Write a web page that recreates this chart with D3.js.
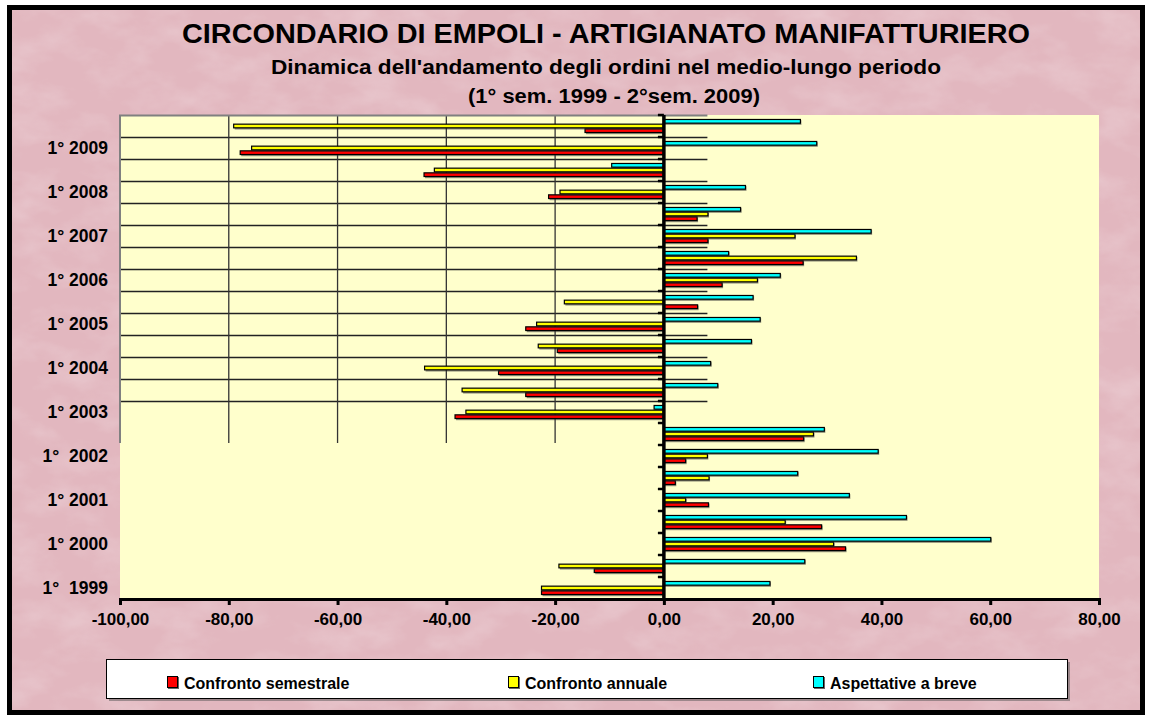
<!DOCTYPE html>
<html lang="it">
	<head>
		<meta charset="utf-8">
		<title>Circondario di Empoli - Artigianato manifatturiero</title>
		<script type="text/javascript" src="https://cdn.jsdelivr.net/npm/d3@7"></script>
		<style>
			body { margin: 0; background: #ffffff; }
			svg text { font-family: "Liberation Sans", Arial, sans-serif; font-weight: bold; fill: #000; }
		</style>
	</head>
	<body>
		<script type="text/javascript">
			//Semesters, bottom to top
			var categories = ["1° 1999", "2° 1999", "1° 2000", "2° 2000", "1° 2001", "2° 2001",
							  "1° 2002", "2° 2002", "1° 2003", "2° 2003", "1° 2004", "2° 2004",
							  "1° 2005", "2° 2005", "1° 2006", "2° 2006", "1° 2007", "2° 2007",
							  "1° 2008", "2° 2008", "1° 2009", "2° 2009"];

			//Only the first semesters get a label
			var tickLabels = ["1°  1999", "", "1° 2000", "", "1° 2001", "",
							  "1°  2002", "", "1° 2003", "", "1° 2004", "",
							  "1° 2005", "", "1° 2006", "", "1° 2007", "",
							  "1° 2008", "", "1° 2009", ""];

			var semestrale = [-22.5, -12.8, 33.4, 29.0, 8.2, 2.1, 4.0, 25.7, -38.4, -25.4, -30.4,
							  -19.6, -25.4, 6.2, 10.7, 25.6, 8.1, 6.1, -21.2, -44.1, -77.9, -14.5];
			var annuale = [-22.5, -19.3, 31.2, 22.3, 4.0, 8.3, 8.0, 27.5, -36.4, -37.1, -44.0,
						   -23.1, -23.4, -18.3, 17.2, 35.4, 24.1, 8.1, -19.1, -42.2, -75.8, -79.1];
			var aspettative = [19.5, 25.9, 60.1, 44.6, 34.1, 24.6, 39.4, 29.5, -1.8, 9.9, 8.6,
							   16.1, 17.7, 16.4, 21.4, 11.9, 38.1, 14.1, 15.0, -9.6, 28.1, 25.1];

			var seriesNames = ["Confronto semestrale", "Confronto annuale", "Aspettative a breve"];
			var seriesColors = ["#ff0000", "#ffff00", "#00ffff"];
			var xTicks = [-100, -80, -60, -40, -20, 0, 20, 40, 60, 80];

			var series = [
				{ name: seriesNames[0], color: seriesColors[0], key: "sem", values: semestrale },
				{ name: seriesNames[1], color: seriesColors[1], key: "ann", values: annuale },
				{ name: seriesNames[2], color: seriesColors[2], key: "asp", values: aspettative }
			];

			//Width and height
			var w = 1152;
			var h = 720;
			var plot = { left: 120, right: 1099, top: 115, bottom: 599 };

			var svg = d3.select("body")
						.append("svg")
						.attr("width", w)
						.attr("height", h);

			//Pink marble background
			var defs = svg.append("defs");
			var marble = defs.append("filter")
				.attr("id", "marble")
				.attr("x", 0).attr("y", 0).attr("width", 1).attr("height", 1);
			marble.append("feTurbulence")
				.attr("type", "fractalNoise")
				.attr("baseFrequency", "0.02 0.035")
				.attr("numOctaves", 4)
				.attr("seed", 7);
			marble.append("feColorMatrix")
				.attr("type", "matrix")
				.attr("values", "0 0 0 0 1  0 0 0 0 1  0 0 0 0 1  1.2 0 0 0 -0.5");

			svg.append("rect")
				.attr("x", 9.5).attr("y", 7.5)
				.attr("width", 1133).attr("height", 705)
				.attr("fill", "#e2b7bf");
			svg.append("rect")
				.attr("x", 12).attr("y", 10)
				.attr("width", 1128).attr("height", 700)
				.attr("filter", "url(#marble)")
				.attr("opacity", 0.35);
			svg.append("rect")
				.attr("x", 9.5).attr("y", 7.5)
				.attr("width", 1133).attr("height", 705)
				.attr("fill", "none")
				.attr("stroke", "#000")
				.attr("stroke-width", 5);

			//Titles
			var cx = 606;
			svg.append("text")
				.attr("x", cx).attr("y", 43)
				.attr("text-anchor", "middle")
				.attr("font-size", "27px")
				.attr("textLength", 848)
				.attr("lengthAdjust", "spacingAndGlyphs")
				.text("CIRCONDARIO DI EMPOLI - ARTIGIANATO MANIFATTURIERO");
			svg.append("text")
				.attr("x", cx).attr("y", 74)
				.attr("text-anchor", "middle")
				.attr("font-size", "20px")
				.attr("textLength", 670)
				.attr("lengthAdjust", "spacingAndGlyphs")
				.text("Dinamica dell'andamento degli ordini nel medio-lungo periodo");
			svg.append("text")
				.attr("x", cx + 8).attr("y", 103)
				.attr("text-anchor", "middle")
				.attr("font-size", "20px")
				.attr("textLength", 292)
				.attr("lengthAdjust", "spacingAndGlyphs")
				.text("(1° sem. 1999 - 2°sem. 2009)");

			//Scales
			var x = d3.scaleLinear()
				.domain([-100, 80])
				.range([plot.left, plot.right]);

			var y = d3.scaleBand()
				.domain(categories.slice().reverse())
				.range([plot.top, plot.bottom])
				.padding(0);

			var ySub = d3.scaleBand()
				.domain(["asp", "ann", "sem"])
				.range([0, y.bandwidth()])
				.paddingInner(0)
				.paddingOuter(0.85);

			//Plot area
			svg.append("rect")
				.attr("x", plot.left).attr("y", plot.top)
				.attr("width", plot.right - plot.left)
				.attr("height", plot.bottom - plot.top)
				.attr("fill", "#ffffcc");

			//Grid (only drawn over the upper left block, as in the original)
			var gridRight = x(8);
			var gridBottom = y(categories[7]) + y.bandwidth() - 2;
			var gridCats = categories.slice(8, 21);

			svg.append("g")
				.selectAll("line")
				.data(gridCats)
				.enter()
				.append("line")
				.attr("x1", plot.left)
				.attr("x2", gridRight)
				.attr("y1", function(d) { return y(d) + 0.5; })
				.attr("y2", function(d) { return y(d) + 0.5; })
				.attr("stroke", "#222")
				.attr("stroke-width", 1.5);

			svg.append("g")
				.selectAll("line")
				.data([-80, -60, -40, -20])
				.enter()
				.append("line")
				.attr("x1", function(d) { return x(d); })
				.attr("x2", function(d) { return x(d); })
				.attr("y1", plot.top)
				.attr("y2", gridBottom)
				.attr("stroke", "#333")
				.attr("stroke-width", 1.3);

			//Grey border of the grid block
			svg.append("path")
				.attr("d", "M" + plot.left + "," + gridBottom + "V" + (plot.top + 0.5) + "H" + gridRight)
				.attr("fill", "none")
				.attr("stroke", "#808080")
				.attr("stroke-width", 2);

			//Bars
			series.forEach(function(s) {
				var g = svg.append("g");
				var rows = s.values.map(function(v, i) { return { cat: categories[i], v: v }; });

				g.selectAll("rect.shadow")
					.data(rows)
					.enter()
					.append("rect")
					.attr("class", "shadow")
					.attr("x", function(d) { return Math.min(x(0), x(d.v)) + 1; })
					.attr("y", function(d) { return y(d.cat) + ySub(s.key) + 1.2; })
					.attr("width", function(d) { return Math.abs(x(d.v) - x(0)); })
					.attr("height", ySub.bandwidth())
					.attr("fill", "#333")
					.attr("opacity", 0.55);

				g.selectAll("rect.bar")
					.data(rows)
					.enter()
					.append("rect")
					.attr("class", "bar")
					.attr("x", function(d) { return Math.min(x(0), x(d.v)); })
					.attr("y", function(d) { return y(d.cat) + ySub(s.key) + 0.5; })
					.attr("width", function(d) { return Math.abs(x(d.v) - x(0)); })
					.attr("height", ySub.bandwidth() - 1)
					.attr("fill", s.color)
					.attr("stroke", "#000")
					.attr("stroke-width", 1.2);
			});

			//Zero axis with ticks at band boundaries
			svg.append("g")
				.selectAll("line")
				.data(categories)
				.enter()
				.append("line")
				.attr("x1", x(0) - 6)
				.attr("x2", x(0))
				.attr("y1", function(d) { return y(d); })
				.attr("y2", function(d) { return y(d); })
				.attr("stroke", "#000")
				.attr("stroke-width", 2.5);

			svg.append("line")
				.attr("x1", x(0)).attr("x2", x(0))
				.attr("y1", plot.top).attr("y2", plot.bottom)
				.attr("stroke", "#000")
				.attr("stroke-width", 3.5);

			//Category labels
			svg.append("g")
				.selectAll("text")
				.data(categories)
				.enter()
				.append("text")
				.attr("x", 108)
				.attr("y", function(d) { return y(d) + y.bandwidth() / 2; })
				.attr("dy", "0.36em")
				.attr("text-anchor", "end")
				.attr("font-size", "17.5px")
				.style("white-space", "pre")
				.text(function(d, i) { return tickLabels[i]; });

			//X axis
			var itLocale = d3.formatLocale({ decimal: ",", thousands: ".", grouping: [3], currency: ["", "€"], minus: "-" });
			var fmt = itLocale.format(".2f");

			var xAxis = d3.axisBottom(x)
				.tickValues(xTicks)
				.tickFormat(fmt)
				.tickSize(6)
				.tickPadding(8);

			var gx = svg.append("g")
				.attr("transform", "translate(0," + plot.bottom + ")")
				.call(xAxis);
			gx.select(".domain")
				.attr("stroke", "#000")
				.attr("stroke-width", 3);
			gx.selectAll(".tick line")
				.attr("stroke", "#000")
				.attr("stroke-width", 3);
			gx.selectAll(".tick text")
				.attr("font-family", "Liberation Sans, Arial, sans-serif")
				.attr("font-weight", "bold")
				.attr("font-size", "17px")
				.attr("fill", "#000");

			//Legend
			var legend = svg.append("g");
			legend.append("rect")
				.attr("x", 109).attr("y", 662)
				.attr("width", 961).attr("height", 39)
				.attr("fill", "#555")
				.attr("opacity", 0.5);
			legend.append("rect")
				.attr("x", 106.5).attr("y", 659.5)
				.attr("width", 961).attr("height", 39)
				.attr("fill", "#fff")
				.attr("stroke", "#000")
				.attr("stroke-width", 1);

			var legendX = [167, 508, 813];
			var items = legend.selectAll("g.item")
				.data(series)
				.enter()
				.append("g")
				.attr("class", "item")
				.attr("transform", function(d, i) { return "translate(" + legendX[i] + ",0)"; });
			items.append("rect")
				.attr("x", 1).attr("y", 677)
				.attr("width", 11).attr("height", 12)
				.attr("fill", "#666");
			items.append("rect")
				.attr("x", 0.5).attr("y", 676.5)
				.attr("width", 10).attr("height", 11)
				.attr("fill", function(d) { return d.color; })
				.attr("stroke", "#000");
			items.append("text")
				.attr("x", 17)
				.attr("y", 689)
				.attr("font-size", "16px")
				.text(function(d) { return d.name; });
		</script>
	</body>
</html>
